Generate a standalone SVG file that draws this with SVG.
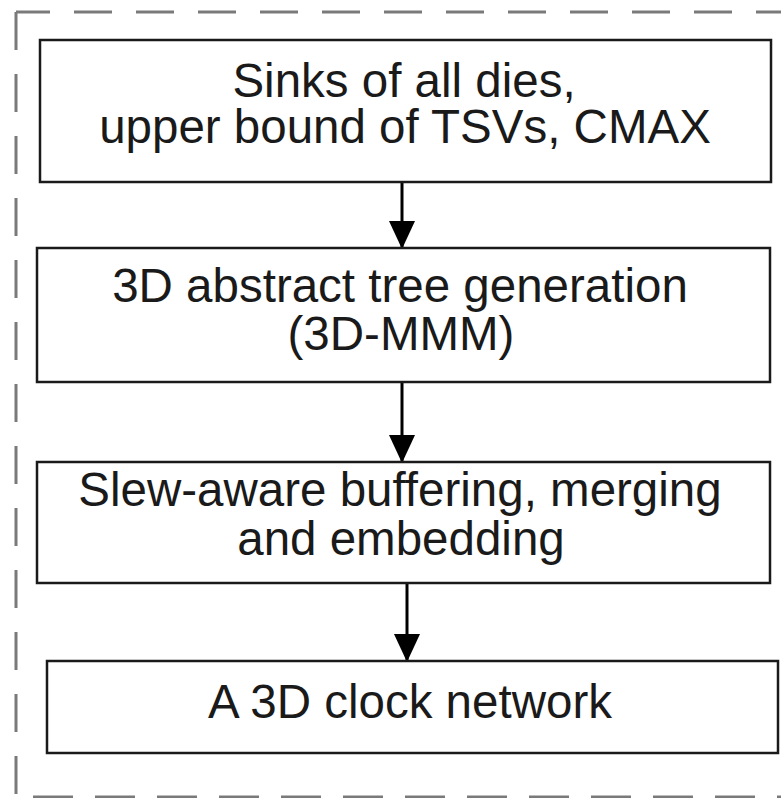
<svg xmlns="http://www.w3.org/2000/svg" width="781" height="798" viewBox="0 0 781 798">
<defs>
<style>
.box{fill:#fff;stroke:#1a1a1a;stroke-width:2.5}
.t{font-family:"Liberation Sans",Arial,sans-serif;font-size:47.5px;fill:#1a1a1a;text-anchor:middle}
.dash{stroke:#7a7a7a;stroke-width:3;fill:none}
.conn{stroke:#000;stroke-width:3;fill:none}
</style>
<marker id="ah" markerUnits="userSpaceOnUse" markerWidth="28" markerHeight="32" refX="26" refY="13" orient="auto">
<path d="M0,0 L28,13 L0,26 Z" fill="#000"/>
</marker>
</defs>
<rect width="781" height="798" fill="#fff"/>
<g id="frame">
<line class="dash" x1="16" y1="12" x2="781" y2="12" stroke-dasharray="38 24" stroke-dashoffset="4"/>
<line class="dash" x1="16" y1="12" x2="16" y2="797" stroke-dasharray="38 24"/>
<line class="dash" x1="16" y1="797" x2="781" y2="797" stroke-dasharray="40 22" stroke-dashoffset="45"/>
</g>
<g id="connectors">
<line class="conn" x1="402" y1="182" x2="402" y2="247" marker-end="url(#ah)"/>
<line class="conn" x1="402" y1="382" x2="402" y2="461" marker-end="url(#ah)"/>
<line class="conn" x1="407" y1="583" x2="407" y2="660" marker-end="url(#ah)"/>
</g>
<g id="n1">
<rect class="box" x="40" y="40" width="731" height="142"/>
<text class="t" x="404" y="97">Sinks of all dies,</text>
<text class="t" x="405" y="143">upper bound of TSVs, CMAX</text>
</g>
<g id="n2">
<rect class="box" x="37" y="248" width="733" height="134"/>
<text class="t" x="400" y="302">3D abstract tree generation</text>
<text class="t" x="401" y="350">(3D-MMM)</text>
</g>
<g id="n3">
<rect class="box" x="37" y="462" width="733" height="121"/>
<text class="t" x="400" y="506">Slew-aware buffering, merging</text>
<text class="t" x="401" y="555">and embedding</text>
</g>
<g id="n4">
<rect class="box" x="47" y="661" width="731" height="92"/>
<text class="t" x="410" y="718">A 3D clock network</text>
</g>
</svg>
